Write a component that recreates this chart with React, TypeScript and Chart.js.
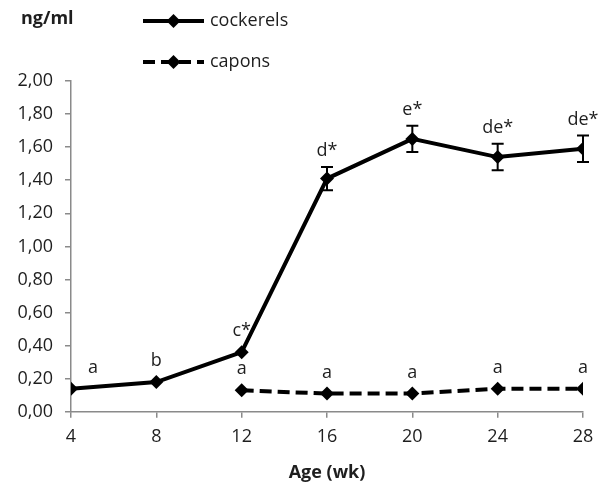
import { useEffect, useRef } from 'react';
import { Chart, registerables } from 'chart.js';

Chart.register(...registerables);

const weeks = [4, 8, 12, 16, 20, 24, 28];
const cockerels = [0.14, 0.18, 0.36, 1.41, 1.65, 1.54, 1.59];
const cockerelsErr = [0, 0, 0, 0.07, 0.08, 0.08, 0.08];
const cockerelsLetters = ['a', 'b', 'c*', 'd*', 'e*', 'de*', 'de*'];

const caponWeeks = [12, 16, 20, 24, 28];
const capons = [0.13, 0.11, 0.11, 0.14, 0.14];
const caponsErr = [0, 0, 0, 0, 0];
const caponsLetters = ['a', 'a', 'a', 'a', 'a'];

const seriesNames = ['cockerels', 'capons'];
const yUnit = 'ng/ml';
const xTitle = 'Age (wk)';

const FONT = "'Open Sans', 'Noto Sans', sans-serif";
const TEXT = '#1e1e1e';
const AXIS = '#8a8a8a';

const errLetters = [
  { err: cockerelsErr, letters: cockerelsLetters },
  { err: caponsErr, letters: caponsLetters },
];

const annotPlugin = {
  id: 'annot',
  afterDatasetsDraw(chart: any) {
    const ctx = chart.ctx;
    const xs = chart.scales.x;
    const ys = chart.scales.y;
    ctx.save();
    chart.data.datasets.forEach((ds: any, di: number) => {
      const { err, letters } = errLetters[di];
      ds.data.forEach((p: any, i: number) => {
        const px = xs.getPixelForValue(p.x);
        const e = err[i];
        if (e > 0) {
          const top = ys.getPixelForValue(p.y + e);
          const bot = ys.getPixelForValue(p.y - e);
          ctx.strokeStyle = '#000';
          ctx.lineWidth = 2;
          ctx.beginPath();
          ctx.moveTo(px, top);
          ctx.lineTo(px, bot);
          ctx.moveTo(px - 6, top);
          ctx.lineTo(px + 6, top);
          ctx.moveTo(px - 6, bot);
          ctx.lineTo(px + 6, bot);
          ctx.stroke();
        }
        const ly = ys.getPixelForValue(p.y + e) - (e > 0 ? 16 : 21);
        let lx = px;
        if (px - chart.chartArea.left < 15) lx = px + 22;
        ctx.fillStyle = TEXT;
        ctx.font = `18px ${FONT}`;
        ctx.textAlign = 'center';
        ctx.textBaseline = 'middle';
        ctx.fillText(letters[i], lx, ly);
      });
    });
    ctx.restore();
  },
  afterDraw(chart: any) {
    const ctx = chart.ctx;
    ctx.save();
    ctx.fillStyle = TEXT;
    ctx.font = `bold 18px ${FONT}`;
    ctx.textAlign = 'left';
    ctx.textBaseline = 'middle';
    ctx.fillText(yUnit, 21, 19);
    const items = [
      { name: seriesNames[0], y: 21, dash: [] as number[] },
      { name: seriesNames[1], y: 62, dash: [12, 6] },
    ];
    items.forEach((it) => {
      ctx.strokeStyle = '#000';
      ctx.lineWidth = 4;
      ctx.setLineDash(it.dash);
      ctx.beginPath();
      ctx.moveTo(143, it.y);
      ctx.lineTo(204, it.y);
      ctx.stroke();
      ctx.setLineDash([]);
      ctx.fillStyle = '#000';
      ctx.beginPath();
      ctx.moveTo(173.5, it.y - 7);
      ctx.lineTo(180.5, it.y);
      ctx.lineTo(173.5, it.y + 7);
      ctx.lineTo(166.5, it.y);
      ctx.closePath();
      ctx.fill();
      ctx.fillStyle = TEXT;
      ctx.font = `18px ${FONT}`;
      ctx.textAlign = 'left';
      ctx.textBaseline = 'middle';
      ctx.fillText(it.name, 210, it.y);
    });
    ctx.restore();
  },
};

export default function App() {
  const ref = useRef<HTMLCanvasElement | null>(null);
  useEffect(() => {
    document.body.style.margin = '0';
    const canvas = ref.current;
    if (!canvas) return;
    const chart = new Chart(canvas, {
      type: 'line',
      data: {
        datasets: [
          {
            label: seriesNames[0],
            data: weeks.map((w, i) => ({ x: w, y: cockerels[i] })),
            borderColor: '#000',
            backgroundColor: '#000',
            borderWidth: 4,
            pointStyle: 'rectRot',
            pointRadius: 7,
            pointBorderWidth: 0,
            tension: 0,
          },
          {
            label: seriesNames[1],
            data: caponWeeks.map((w, i) => ({ x: w, y: capons[i] })),
            borderColor: '#000',
            backgroundColor: '#000',
            borderWidth: 4,
            borderDash: [12, 6],
            pointStyle: 'rectRot',
            pointRadius: 7,
            pointBorderWidth: 0,
            tension: 0,
          },
        ],
      },
      options: {
        animation: false,
        responsive: true,
        maintainAspectRatio: false,
        layout: { padding: { top: 81, right: 19, bottom: 2, left: 0 } },
        plugins: {
          legend: { display: false },
          tooltip: { enabled: false },
        },
        scales: {
          x: {
            type: 'linear',
            min: 4,
            max: 28,
            grid: {
              display: true,
              drawOnChartArea: false,
              drawTicks: true,
              tickLength: 6,
              color: AXIS,
              lineWidth: 1.5,
            },
            border: { color: AXIS, width: 1.5 },
            ticks: {
              stepSize: 4,
              padding: 8,
              color: TEXT,
              font: { family: FONT, size: 18 },
            },
            title: {
              display: true,
              text: xTitle,
              color: TEXT,
              font: { family: FONT, size: 18, weight: 'bold' },
              padding: { top: 7, bottom: 4 },
            },
          },
          y: {
            min: 0,
            max: 2,
            grid: {
              display: true,
              drawOnChartArea: false,
              drawTicks: true,
              tickLength: 6,
              color: AXIS,
              lineWidth: 1.5,
            },
            border: { color: AXIS, width: 1.5 },
            ticks: {
              stepSize: 0.2,
              padding: 12,
              color: TEXT,
              font: { family: FONT, size: 18 },
              callback: (v: any) => Number(v).toFixed(2).replace('.', ','),
            },
            afterFit: (scale: any) => {
              scale.width = 71;
            },
          },
        },
      },
      plugins: [annotPlugin],
    } as any);
    return () => chart.destroy();
  }, []);
  return (
    <div style={{ position: 'absolute', left: 0, top: 0, width: 602, height: 490 }}>
      <canvas ref={ref} />
    </div>
  );
}
